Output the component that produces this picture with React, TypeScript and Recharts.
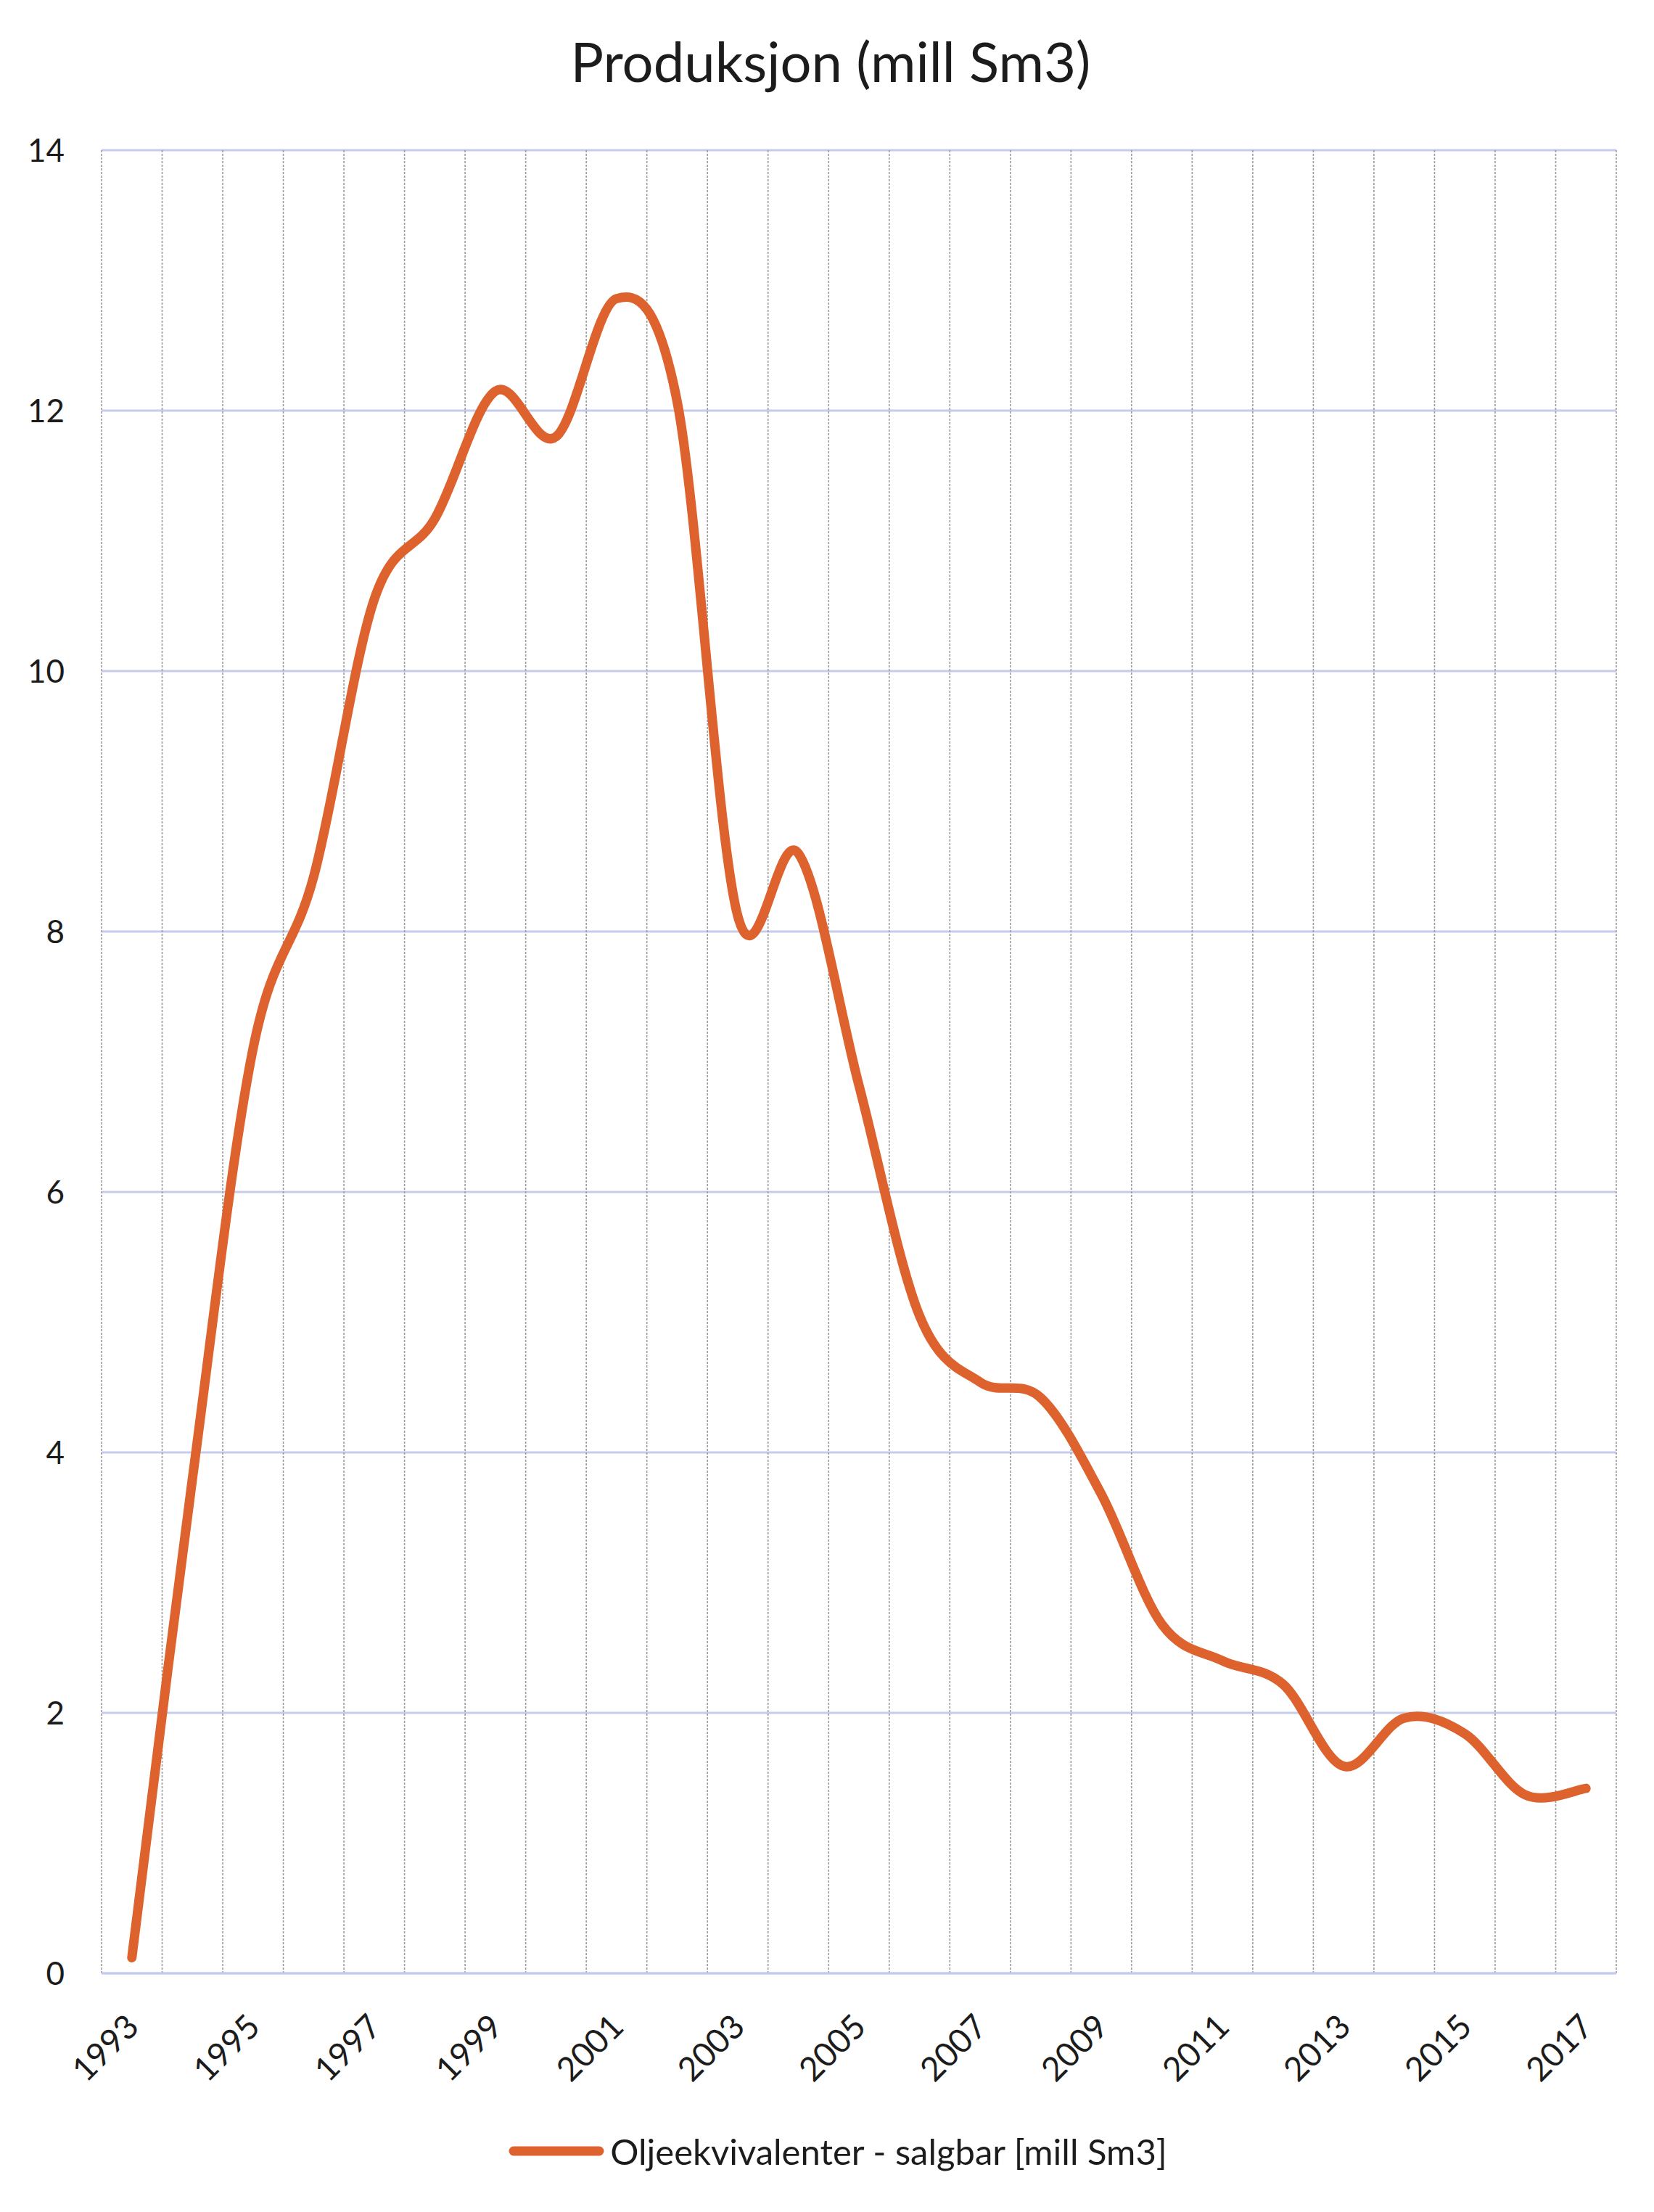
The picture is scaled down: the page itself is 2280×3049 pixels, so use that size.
import { LineChart, Line, XAxis, YAxis, CartesianGrid, Legend } from "recharts";

const years = [
  1993, 1994, 1995, 1996, 1997, 1998, 1999, 2000, 2001, 2002, 2003, 2004, 2005,
  2006, 2007, 2008, 2009, 2010, 2011, 2012, 2013, 2014, 2015, 2016, 2017,
];
const production = [
  0.12, 3.8, 7.1, 8.42, 10.55, 11.17, 12.15, 11.8, 12.86, 12.07, 8.12, 8.6, 6.82,
  5.05, 4.54, 4.42, 3.68, 2.68, 2.4, 2.22, 1.59, 1.96, 1.84, 1.37, 1.42,
];
const yTicks = [0, 2, 4, 6, 8, 10, 12, 14];
const xTicks = [1993, 1995, 1997, 1999, 2001, 2003, 2005, 2007, 2009, 2011, 2013, 2015, 2017];

const seriesName = "Oljeekvivalenter - salgbar [mill Sm3]";
const title = "Produksjon (mill Sm3)";

const data = years.map((year, i) => ({ year, value: production[i] }));

const FONT = "Lato, 'Open Sans', sans-serif";
const TEXT = "#1c1c1c";
const LINE = "#DD622D";

// Excel style smoothed line (cardinal / catmull-rom bezier)
const excelSmooth = (context: any) => {
  let pts: number[][] = [];
  return {
    areaStart() {},
    areaEnd() {},
    lineStart() {
      pts = [];
    },
    point(x: number, y: number) {
      pts.push([+x, +y]);
    },
    lineEnd() {
      if (!pts.length) return;
      context.moveTo(pts[0][0], pts[0][1]);
      for (let i = 0; i < pts.length - 1; i++) {
        const p0 = pts[Math.max(i - 1, 0)];
        const p1 = pts[i];
        const p2 = pts[i + 1];
        const p3 = pts[Math.min(i + 2, pts.length - 1)];
        context.bezierCurveTo(
          p1[0] + (p2[0] - p0[0]) / 6,
          p1[1] + (p2[1] - p0[1]) / 6,
          p2[0] - (p3[0] - p1[0]) / 6,
          p2[1] - (p3[1] - p1[1]) / 6,
          p2[0],
          p2[1]
        );
      }
    },
  };
};

function YearTick({ x, y, payload }: any) {
  return (
    <text
      x={x}
      y={y}
      transform={`rotate(-45 ${x} ${y})`}
      textAnchor="end"
      dominantBaseline="central"
      fontSize={46}
      fontFamily={FONT}
      fill={TEXT}
    >
      {payload.value}
    </text>
  );
}

function LegendContent({ payload }: any) {
  return (
    <div
      style={{
        display: "flex",
        justifyContent: "center",
        alignItems: "center",
        height: 60,
        paddingLeft: 30,
        fontFamily: FONT,
      }}
    >
      {(payload || []).map((p: any) => (
        <div key={p.value} style={{ display: "flex", alignItems: "center" }}>
          <svg width={132} height={20} style={{ marginRight: 8 }}>
            <line x1={7} y1={10} x2={125} y2={10} stroke={p.color} strokeWidth={13} strokeLinecap="round" />
          </svg>
          <span style={{ fontSize: 49, color: TEXT }}>{p.value}</span>
        </div>
      ))}
    </div>
  );
}

export default function App() {
  return (
    <div style={{ position: "absolute", left: 0, top: 0, width: 2280, height: 3049, background: "#fff" }}>
      <div
        style={{
          position: "absolute",
          top: 46,
          left: 0,
          width: 2280,
          textAlign: "center",
          fontFamily: FONT,
          fontSize: 76,
          lineHeight: 1,
          color: TEXT,
          paddingLeft: 10,
          boxSizing: "border-box",
        }}
      >
        {title}
      </div>
      <LineChart width={2280} height={3049} data={data} margin={{ top: 207, right: 52, bottom: 54, left: 40 }}>
        <CartesianGrid vertical={false} stroke="#c6cceb" strokeWidth={3} />
        <CartesianGrid
          horizontal={false}
          stroke="#9c9c9c"
          strokeWidth={1.6}
          strokeDasharray="3 2"
          verticalCoordinatesGenerator={({ offset }: any) =>
            Array.from({ length: years.length + 1 }, (_, k) => offset.left + (k * offset.width) / years.length)
          }
        />
        <XAxis
          dataKey="year"
          type="number"
          domain={[years[0] - 0.5, years[years.length - 1] + 0.5]}
          ticks={xTicks}
          interval={0}
          height={215}
          tickLine={false}
          tickMargin={58}
          axisLine={{ stroke: "#c6cceb", strokeWidth: 3 }}
          tick={<YearTick />}
        />
        <YAxis
          domain={[0, 14]}
          ticks={yTicks}
          width={100}
          axisLine={false}
          tickLine={false}
          tickMargin={45}
          tick={{ fill: TEXT, fontSize: 44, fontFamily: FONT }}
        />
        <Legend verticalAlign="bottom" height={60} wrapperStyle={{ left: 0, width: 2280 }} content={<LegendContent />} />
        <Line
          dataKey="value"
          name={seriesName}
          type={excelSmooth as any}
          stroke={LINE}
          strokeWidth={13}
          strokeLinecap="round"
          strokeLinejoin="round"
          dot={false}
          activeDot={false}
          isAnimationActive={false}
        />
      </LineChart>
    </div>
  );
}
